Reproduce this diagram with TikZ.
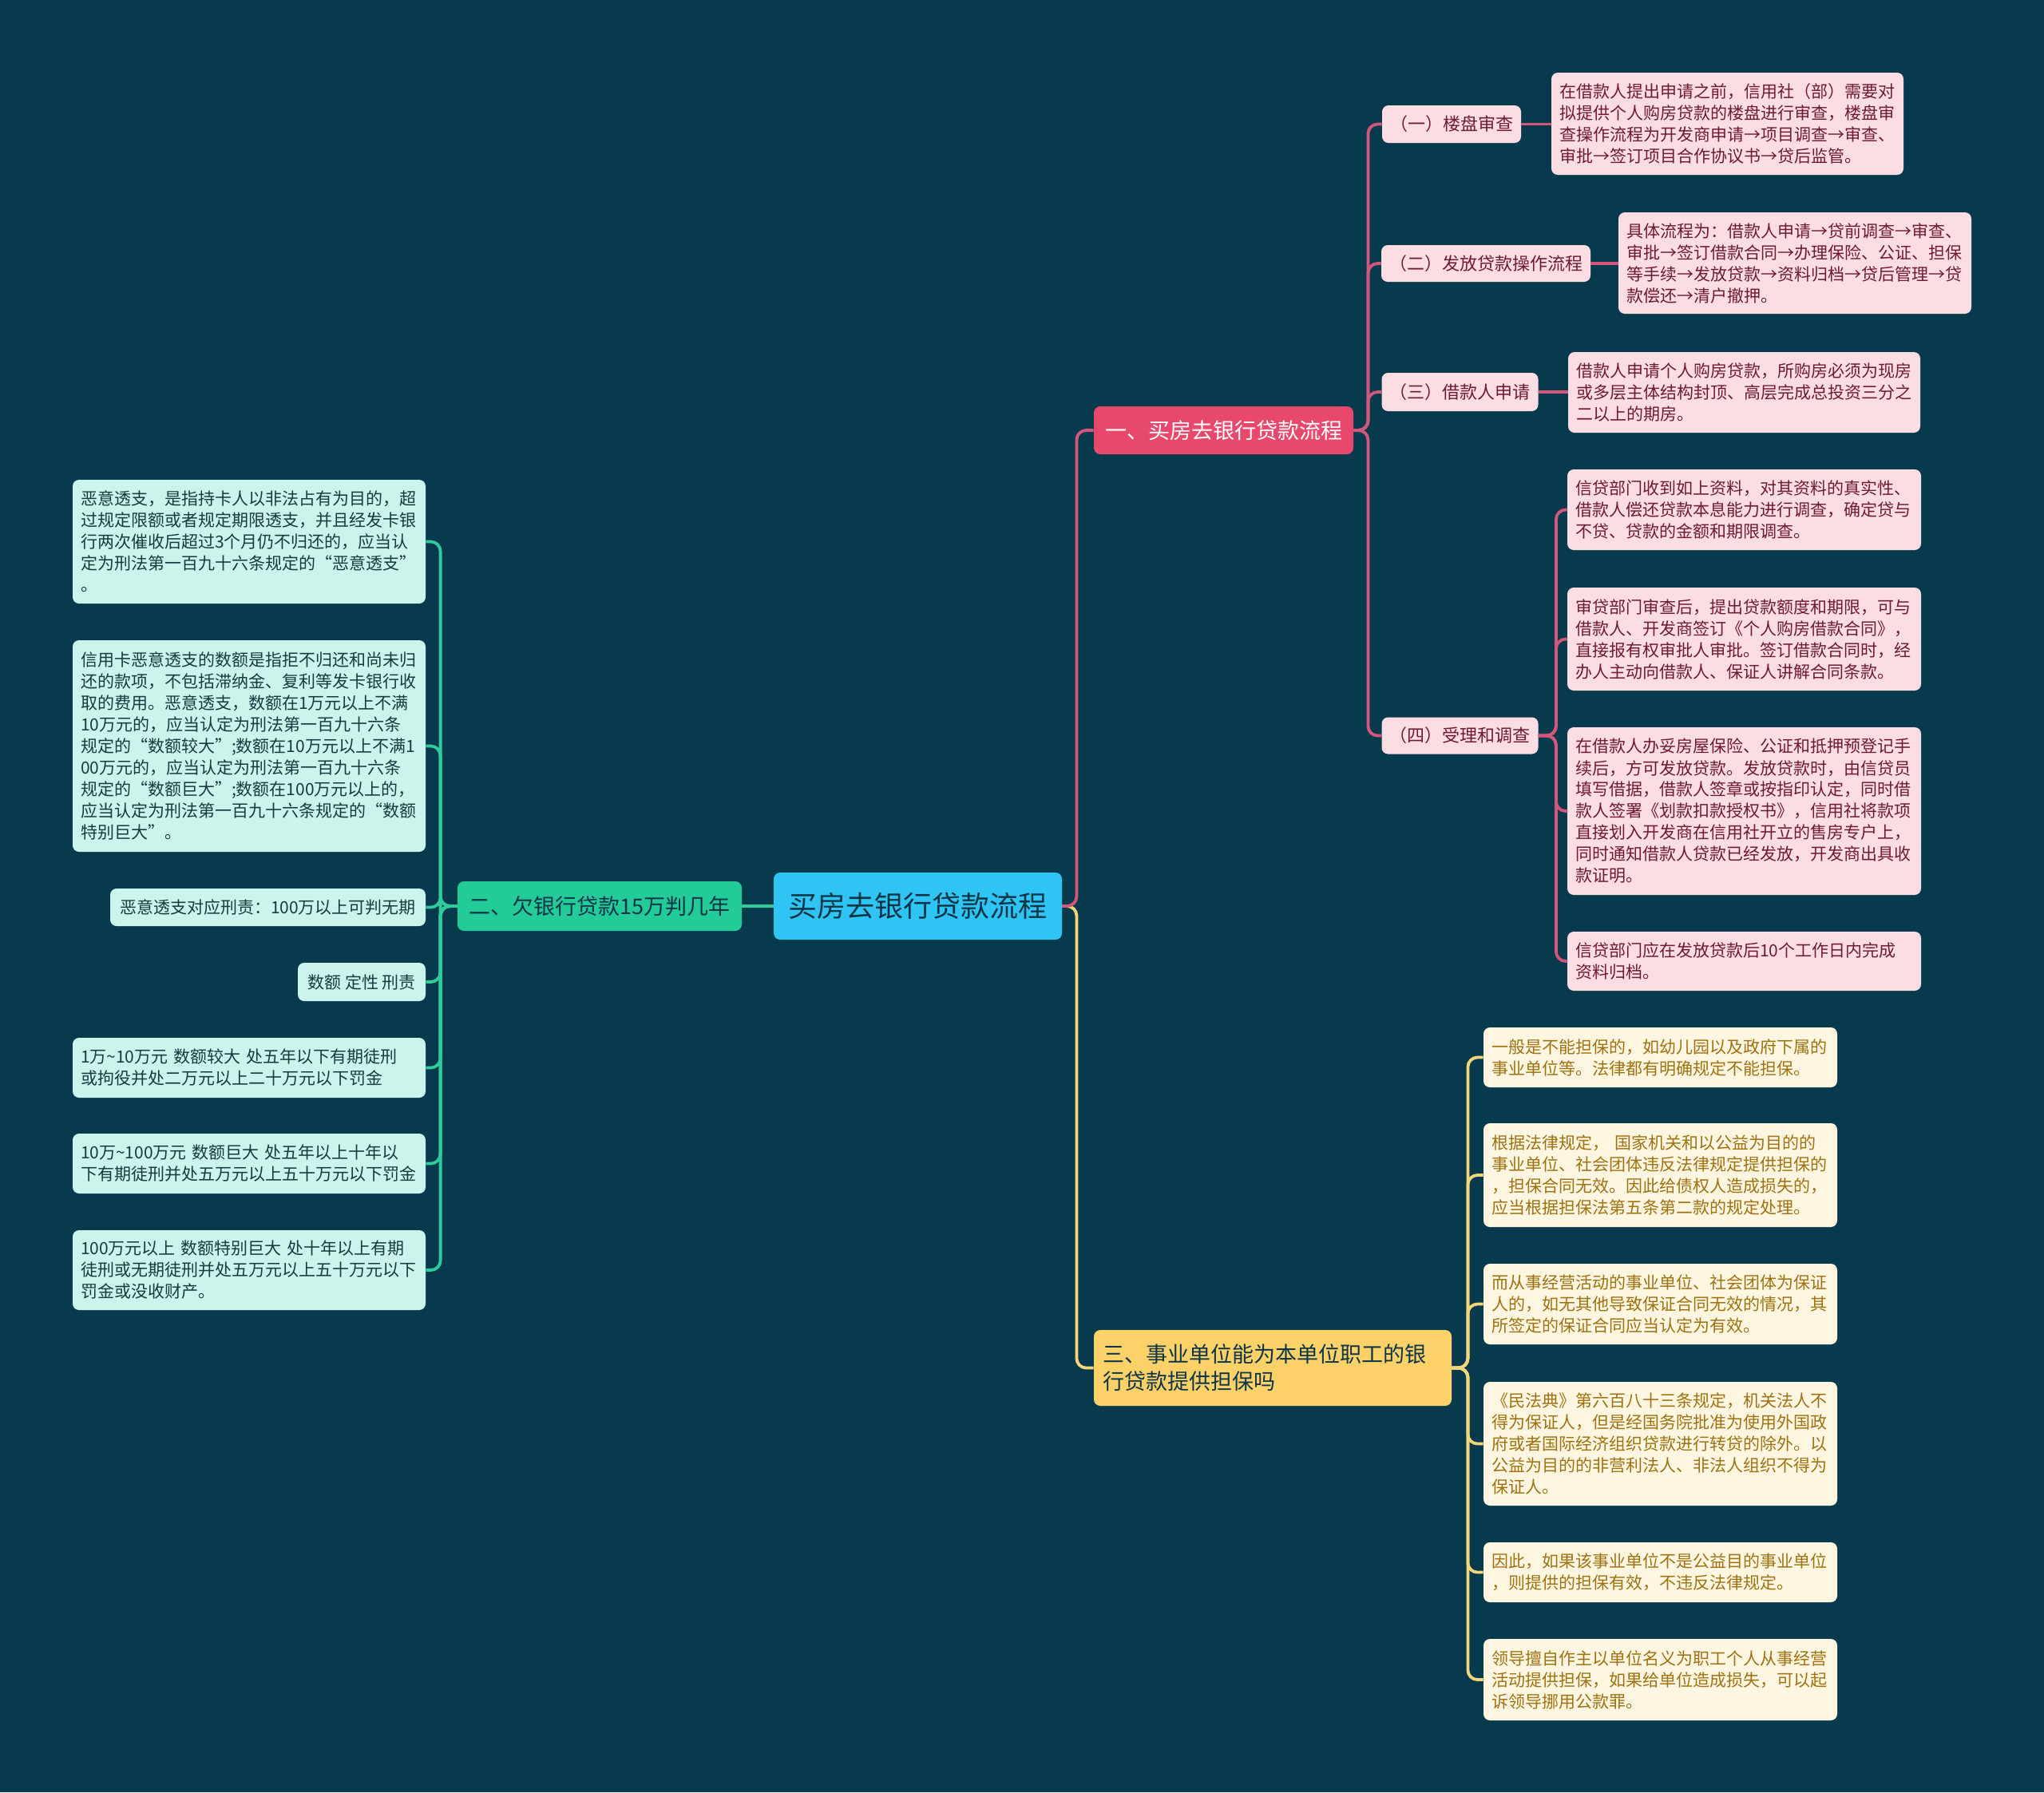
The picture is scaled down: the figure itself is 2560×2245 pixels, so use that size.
\documentclass[tikz,border=0pt]{standalone}
\usepackage{fontspec}
\setmainfont{Noto Sans CJK SC}
\definecolor{bgc}{HTML}{083A4E}
\definecolor{rootfill}{HTML}{2EC4F3}
\definecolor{darktext}{HTML}{0E3547}
\definecolor{bAfill}{HTML}{E9486D}
\definecolor{bBfill}{HTML}{22CB98}
\definecolor{bCfill}{HTML}{FCD168}
\definecolor{pinkfill}{HTML}{FCDDE3}
\definecolor{pinktext}{HTML}{6E1B2E}
\definecolor{greenfill}{HTML}{CBF5EC}
\definecolor{greentext}{HTML}{173A40}
\definecolor{creamfill}{HTML}{FEF6E0}
\definecolor{creamtext}{HTML}{9E7212}
\definecolor{clpink}{HTML}{D4567A}
\definecolor{clgreen}{HTML}{2FCB9B}
\definecolor{clyellow}{HTML}{F3D57A}
\newcommand\leaffont{\fontsize{10.5}{13.5}\selectfont}
\newcommand\brfont{\fontsize{13.5}{17}\selectfont}
\tikzset{
  box/.style={rounded corners=4pt, inner xsep=5pt, inner ysep=3pt},
  rootbox/.style={box, fill=rootfill, text=darktext, font=\fontsize{18}{22}\selectfont, minimum width=180.5pt, minimum height=42pt},
  bAbox/.style={box, fill=bAfill, text=white, font=\brfont, minimum width=162.5pt, minimum height=30pt},
  bBbox/.style={box, fill=bBfill, text=darktext, font=\brfont, minimum width=178pt, minimum height=31pt},
  bCbox/.style={box, fill=bCfill, text=darktext, font=\brfont, align=left, text width=213pt, inner xsep=5.5pt, minimum height=47.5pt},
  pinklab/.style={box, fill=pinkfill, text=pinktext, font=\fontsize{11}{13}\selectfont},
  pinkleaf/.style={box, fill=pinkfill, text=pinktext, font=\leaffont, align=left, text width=#1},
  greenleaf/.style={box, fill=greenfill, text=greentext, font=\leaffont, align=left, text width=#1},
  greenshort/.style={box, fill=greenfill, text=greentext, font=\leaffont},
  creamleaf/.style={box, fill=creamfill, text=creamtext, font=\leaffont, align=left, text width=211.5pt},
  pinkconn/.style={draw=clpink, line width=1.9pt, rounded corners=6pt},
  greenconn/.style={draw=clgreen, line width=1.9pt, rounded corners=6pt},
  yellowconn/.style={draw=clyellow, line width=1.9pt, rounded corners=6pt},
}
\begin{document}
\begin{tikzpicture}[x=0.5pt, y=-0.5pt]
\fill[bgc] (0,0) rectangle (2560,2245);
\useasboundingbox (0,0) rectangle (2560,2245);

% root and main branches
\node[rootbox] (root) at (1149.5,1135) {买房去银行贷款流程};
\node[bAbox] (b1) at (1532.5,539) {一、买房去银行贷款流程};
\node[bBbox] (b2) at (751,1135) {二、欠银行贷款15万判几年};
\node[bCbox] (b3) at (1594,1713.5) {三、事业单位能为本单位职工的银\\行贷款提供担保吗};

% branch 1 sub-labels
\node[pinklab, minimum width=83pt, minimum height=23.5pt] (l1) at (1818,155.5) {（一）楼盘审查};
\node[pinklab, minimum width=125pt, minimum height=23pt] (l2) at (1861,330) {（二）发放贷款操作流程};
\node[pinklab, minimum width=93.5pt, minimum height=24pt] (l3) at (1828.5,491) {（三）借款人申请};
\node[pinklab, minimum width=93.5pt, minimum height=23pt] (l4) at (1828.5,921.5) {（四）受理和调查};

% branch 1 leaves
\node[pinkleaf=210.5pt, minimum height=64pt] (p1) at (2163.5,155) {在借款人提出申请之前，信用社（部）需要对\\拟提供个人购房贷款的楼盘进行审查，楼盘审\\查操作流程为开发商申请→项目调查→审查、\\审批→签订项目合作协议书→贷后监管。};
\node[pinkleaf=211pt, minimum height=63.5pt] (p2) at (2248,329.5) {具体流程为：借款人申请→贷前调查→审查、\\审批→签订借款合同→办理保险、公证、担保\\等手续→发放贷款→资料归档→贷后管理→贷\\款偿还→清户撤押。};
\node[pinkleaf=210.5pt, minimum height=50.5pt] (p3) at (2184.5,491.5) {借款人申请个人购房贷款，所购房必须为现房\\或多层主体结构封顶、高层完成总投资三分之\\二以上的期房。};
\node[pinkleaf=211.5pt, minimum height=50.5pt] (q1) at (2184.5,638.5) {信贷部门收到如上资料，对其资料的真实性、\\借款人偿还贷款本息能力进行调查，确定贷与\\不贷、贷款的金额和期限调查。};
\node[pinkleaf=211.5pt, minimum height=64.5pt] (q2) at (2184.5,800.5) {审贷部门审查后，提出贷款额度和期限，可与\\借款人、开发商签订《个人购房借款合同》，\\直接报有权审批人审批。签订借款合同时，经\\办人主动向借款人、保证人讲解合同条款。};
\node[pinkleaf=211.5pt, minimum height=105pt] (q3) at (2184.5,1016) {在借款人办妥房屋保险、公证和抵押预登记手\\续后，方可发放贷款。发放贷款时，由信贷员\\填写借据，借款人签章或按指印认定，同时借\\款人签署《划款扣款授权书》，信用社将款项\\直接划入开发商在信用社开立的售房专户上，\\同时通知借款人贷款已经发放，开发商出具收\\款证明。};
\node[pinkleaf=211.5pt, minimum height=37pt] (q4) at (2184.5,1204) {信贷部门应在发放贷款后10个工作日内完成\\资料归档。};

% branch 3 leaves
\node[creamleaf, minimum height=37.5pt] (c1) at (2079.5,1324.5) {一般是不能担保的，如幼儿园以及政府下属的\\事业单位等。法律都有明确规定不能担保。};
\node[creamleaf, minimum height=65pt] (c2) at (2079.5,1472) {根据法律规定，~国家机关和以公益为目的的\\事业单位、社会团体违反法律规定提供担保的\\，担保合同无效。因此给债权人造成损失的，\\应当根据担保法第五条第二款的规定处理。};
\node[creamleaf, minimum height=50.5pt] (c3) at (2079.5,1633.5) {而从事经营活动的事业单位、社会团体为保证\\人的，如无其他导致保证合同无效的情况，其\\所签定的保证合同应当认定为有效。};
\node[creamleaf, minimum height=77.5pt] (c4) at (2079.5,1808.5) {《民法典》第六百八十三条规定，机关法人不\\得为保证人，但是经国务院批准为使用外国政\\府或者国际经济组织贷款进行转贷的除外。以\\公益为目的的非营利法人、非法人组织不得为\\保证人。};
\node[creamleaf, minimum height=37.5pt] (c5) at (2079.5,1969.5) {因此，如果该事业单位不是公益目的事业单位\\，则提供的担保有效，不违反法律规定。};
\node[creamleaf, minimum height=51pt] (c6) at (2079.5,2104) {领导擅自作主以单位名义为职工个人从事经营\\活动提供担保，如果给单位造成损失，可以起\\诉领导挪用公款罪。};

% branch 2 leaves
\node[greenleaf=211pt, minimum height=77.5pt] (g1) at (312,678.5) {恶意透支，是指持卡人以非法占有为目的，超\\过规定限额或者规定期限透支，并且经发卡银\\行两次催收后超过3个月仍不归还的，应当认\\定为刑法第一百九十六条规定的“恶意透支”\\。};
\node[greenleaf=211pt, minimum height=132.5pt] (g2) at (312,934.5) {信用卡恶意透支的数额是指拒不归还和尚未归\\还的款项，不包括滞纳金、复利等发卡银行收\\取的费用。恶意透支，数额在1万元以上不满\\10万元的，应当认定为刑法第一百九十六条\\规定的“数额较大”;数额在10万元以上不满1\\00万元的，应当认定为刑法第一百九十六条\\规定的“数额巨大”;数额在100万元以上的，\\应当认定为刑法第一百九十六条规定的“数额\\特别巨大”。};
\node[greenshort, minimum width=197.5pt, minimum height=23.5pt] (g3) at (335.5,1136.5) {恶意透支对应刑责：100万以上可判无期};
\node[greenshort, minimum width=80pt, minimum height=24pt] (g4) at (453,1230) {数额~定性~刑责};
\node[greenleaf=211pt, minimum height=37.5pt] (g5) at (312,1337.5) {1万\textasciitilde10万元~数额较大~处五年以下有期徒刑\\或拘役并处二万元以上二十万元以下罚金};
\node[greenleaf=211pt, minimum height=37.5pt] (g6) at (312,1457.5) {10万\textasciitilde100万元~数额巨大~处五年以上十年以\\下有期徒刑并处五万元以上五十万元以下罚金};
\node[greenleaf=211pt, minimum height=50pt] (g7) at (312,1591) {100万元以上~数额特别巨大~处十年以上有期\\徒刑或无期徒刑并处五万元以上五十万元以下\\罚金或没收财产。};

% connectors from root
\draw[greenconn] (root.west) -- (b2.east);
\draw[yellowconn] (root.east) -- ++(18,0) |- (b3.west);
\draw[pinkconn] (root.east) -- ++(18,0) |- (b1.west);

% branch 1 connectors
\foreach \n in {l1,l2,l3,l4} \draw[pinkconn] (b1.east) -- ++(18,0) |- (\n.west);
\draw[pinkconn] (l1.east) -- (l1.east -| p1.west);
\draw[pinkconn] (l2.east) -- (l2.east -| p2.west);
\draw[pinkconn] (l3.east) -- (l3.east -| p3.west);
\foreach \n in {q1,q2,q3,q4} \draw[pinkconn] (l4.east) -- ++(22,0) |- (\n.west);

% branch 3 connectors
\foreach \n in {c1,c2,c3,c4,c5,c6} \draw[yellowconn] (b3.east) -- ++(20,0) |- (\n.west);

% branch 2 connectors
\foreach \n in {g1,g2,g3,g4,g5,g6,g7} \draw[greenconn] (b2.west) -- ++(-21,0) |- (\n.east);
\end{tikzpicture}
\end{document}
